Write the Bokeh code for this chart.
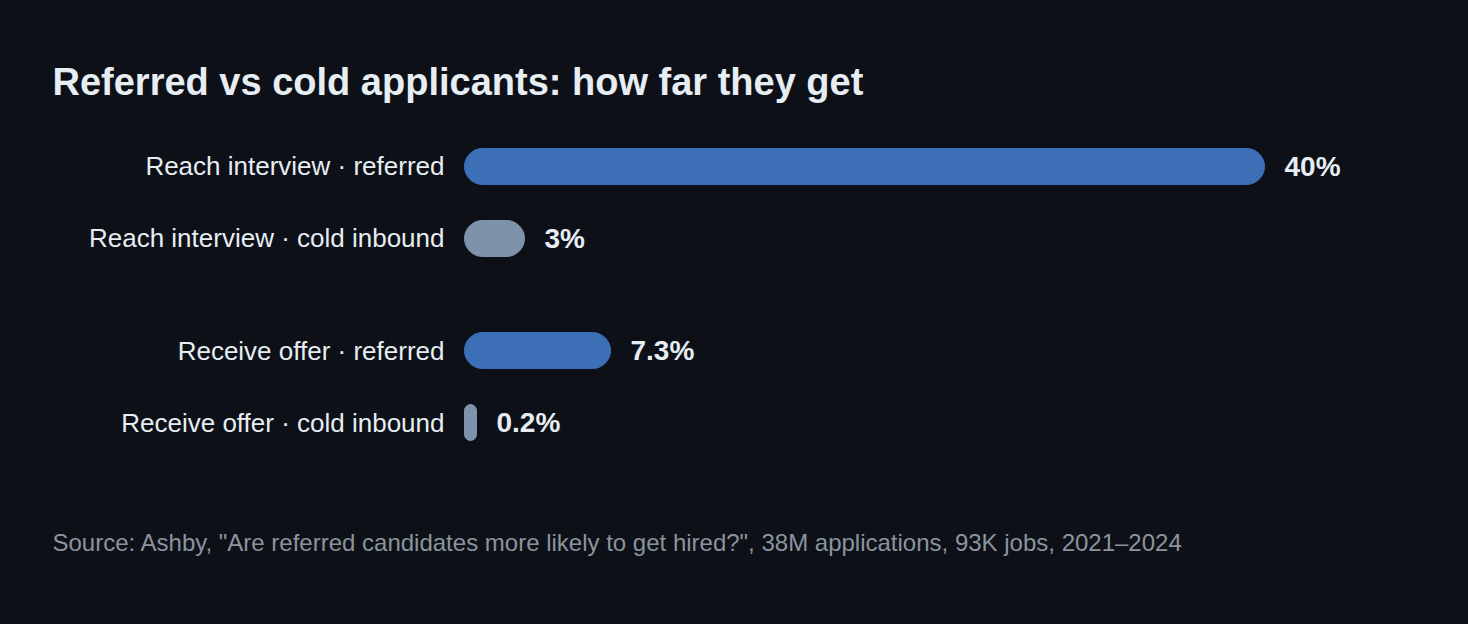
from bokeh.plotting import figure
from bokeh.models import ColumnDataSource, FactorRange, Range1d, Title
from bokeh.core.properties import value
from bokeh.embed import file_html
from bokeh.resources import INLINE

# data
stages = ["Reach interview", "Reach interview", "Receive offer", "Receive offer"]
groups = ["referred", "cold inbound", "referred", "cold inbound"]
pct = [40, 3, 7.3, 0.2]
pct_labels = ["40%", "3%", "7.3%", "0.2%"]

BG = "#0d1017"
TEXT = "#e6edf3"
BLUE = "#3d6fb6"
GREY = "#7f92ab"
FONT = "Liberation Sans"

factors = list(zip(stages, groups))
# a very small share still gets a visible stub, like the original
bar_end = [max(v, 0.6) for v in pct]
colors = [BLUE if g == "referred" else GREY for g in groups]
names = [s + " \u00b7 " + g for s, g in zip(stages, groups)]

src = ColumnDataSource(dict(y=factors, pct=pct, end=bar_end, color=colors,
                            name=names, lbl=pct_labels))

p = figure(width=1468, height=624, output_backend="svg", toolbar_location=None,
           x_range=Range1d(-23.2, 50.2),
           y_range=FactorRange(factors=factors[::-1], group_padding=0.556,
                               range_padding=0),
           x_axis_location=None, y_axis_location=None,
           min_border_left=0, min_border_right=0,
           min_border_top=130, min_border_bottom=166)

p.background_fill_color = BG
p.border_fill_color = BG
p.outline_line_color = None
p.xgrid.visible = False
p.ygrid.visible = False

p.title.text = "Referred vs cold applicants: how far they get"
p.title.text_font = FONT
p.title.text_font_size = "38px"
p.title.text_color = TEXT
p.title.align = "left"
p.title.offset = 52
p.title.standoff = 56

p.add_layout(Title(text='Source: Ashby, "Are referred candidates more likely to get hired?", '
                        '38M applications, 93K jobs, 2021\u20132024',
                   text_font=FONT, text_font_size="24px", text_font_style="normal",
                   text_color="#8b949e", align="left", offset=52, standoff=137),
             "below")

p.hbar(y="y", left=0, right="end", height=0.5, color="color", source=src,
       border_radius=18)

p.text(x=0, y="y", text="name", source=src, x_offset=-20,
       text_align="right", text_baseline="middle",
       text_font=value(FONT), text_font_size="26px", text_color=TEXT)

p.text(x="end", y="y", text="lbl", source=src, x_offset=20,
       text_align="left", text_baseline="middle",
       text_font=value(FONT), text_font_size="28px", text_font_style="bold",
       text_color=TEXT)

# dark page behind the canvas so no light seams show between fill areas
html = file_html(p, INLINE).replace(
    "</head>", "<style>html, body { background: #0d1017; }</style></head>", 1)
open("out.html", "w").write(html)
